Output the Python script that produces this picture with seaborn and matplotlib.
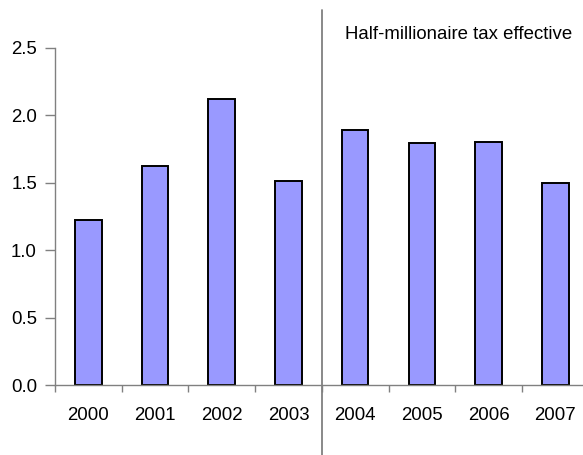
import matplotlib
matplotlib.use("Agg")
import matplotlib.pyplot as plt
import seaborn as sns
import pandas as pd
import numpy as np

years = ["2000", "2001", "2002", "2003", "2004", "2005", "2006", "2007"]
values = [1.22, 1.62, 2.12, 1.51, 1.89, 1.79, 1.80, 1.50]
y_ticks = [0.0, 0.5, 1.0, 1.5, 2.0, 2.5]
annotation = "Half-millionaire tax effective"

sns.set_style("white")
plt.rcParams["font.family"] = ["Liberation Sans", "DejaVu Sans"]

df = pd.DataFrame({"year": years, "value": values})

fig = plt.figure(figsize=(5.83, 4.55), dpi=100)
ax = fig.add_axes([55 / 583, 70 / 455, 533.6 / 583, 337.3 / 455])

sns.barplot(data=df, x="year", y="value", ax=ax, color="#9999FF",
            saturation=1, width=0.4, edgecolor="black", linewidth=1.4)

ax.set_ylim(0, 2.5)
ax.set_xlim(-0.5, len(years) - 0.5)
ax.set_xlabel("")
ax.set_ylabel("")

ax.set_yticks(y_ticks)
ax.set_yticklabels([f"{t:.1f}" for t in y_ticks])

# category labels at bar centres, tick marks between categories
ax.set_xticks(np.arange(len(years)))
ax.set_xticklabels(years)
ax.set_xticks(np.arange(len(years) + 1) - 0.5, minor=True)
ax.tick_params(axis="x", which="major", length=0, pad=16, labelsize=13.4,
               labelcolor="black")
ax.tick_params(axis="x", which="minor", length=5, width=1.0, color="#808080",
               direction="out", bottom=True)
ax.tick_params(axis="y", which="major", length=7, width=1.0, color="#808080",
               direction="out", left=True, pad=6, labelsize=13.4,
               labelcolor="black")

for side in ["top", "right"]:
    ax.spines[side].set_visible(False)
for side in ["left", "bottom"]:
    ax.spines[side].set_color("#808080")
    ax.spines[side].set_linewidth(1.0)

# policy change divider between 2003 and 2004
ax.axvline(3.5, ymin=-0.21, ymax=1.112, color="#808080", linewidth=1.3,
           clip_on=False)
ax.text(3.85, 2.595, annotation, ha="left", va="center", fontsize=13.4,
        color="black")

fig.savefig("out.png", dpi=100)
